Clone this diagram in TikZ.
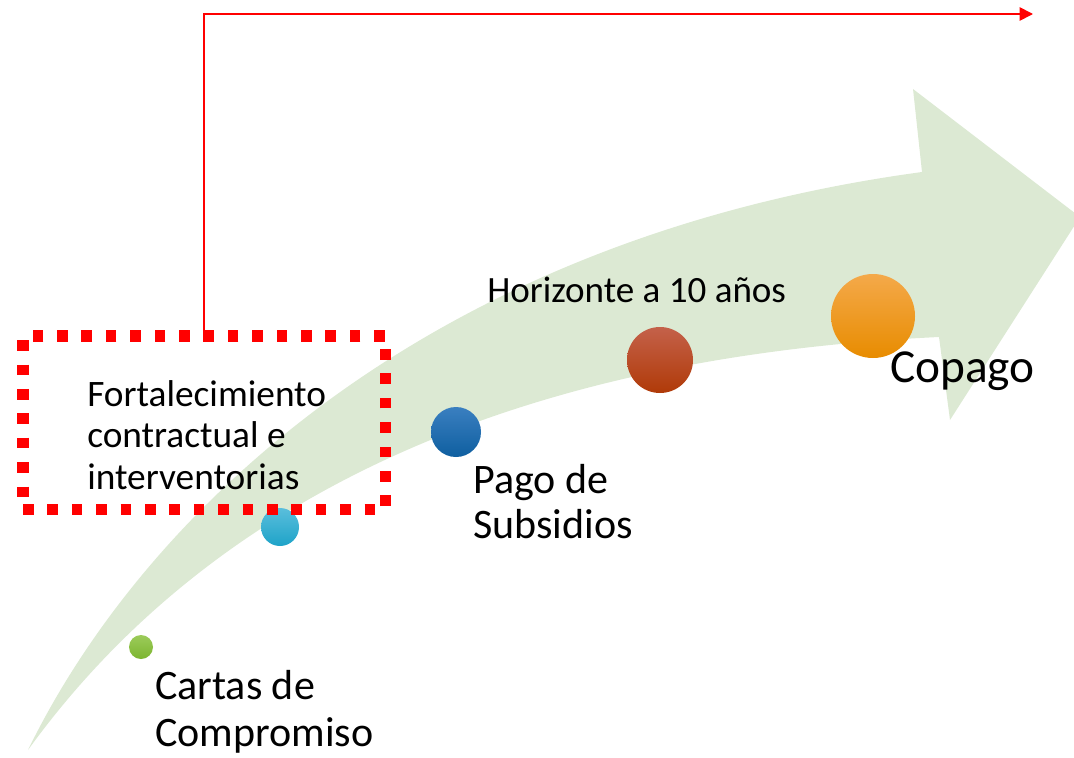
\documentclass[tikz,border=0pt]{standalone}
\usepackage{fontspec}
\setmainfont{Carlito}
\usepackage{xcolor}
\usetikzlibrary{arrows.meta,positioning,calc}

\definecolor{pathgreen}{RGB}{220,233,211}
\definecolor{framered}{RGB}{255,0,0}

\begin{document}
\begin{tikzpicture}[
    x=0.75pt, y=-0.75pt,
    bubble/.style={circle, inner sep=0pt, minimum size=#1},
    txt/.style={inner sep=0pt, align=left, anchor=west},
    connector/.style={-{Triangle[length=10pt, width=10pt]}, draw=framered, line width=1.3pt}
]
    \clip (0,0) rectangle (1074,757);

    % Curved arrow
    \fill[pathgreen] (28,750) .. controls (140,520) and (420,240) .. (922,172)
        -- (913,89) -- (1080,217) -- (950,420) -- (939,337)
        .. controls (450,360) and (180,540) .. (28,750) -- cycle;

    % Milestones
    \node[bubble=18pt, top color={rgb,255:red,156;green,203;blue,90}, bottom color={rgb,255:red,124;green,181;blue,48}] (cartasdot) at (141,647) {};
    \node[bubble=28.5pt, top color={rgb,255:red,90;green,190;blue,220}, bottom color={rgb,255:red,30;green,163;blue,200}] (reportdot) at (280,527) {};
    \node[bubble=37.5pt, top color={rgb,255:red,58;green,127;blue,192}, bottom color={rgb,255:red,15;green,95;blue,160}] (pagodot) at (456,432) {};
    \node[bubble=49.5pt, top color={rgb,255:red,196;green,97;blue,74}, bottom color={rgb,255:red,176;green,58;blue,8}] (horizdot) at (660,360) {};
    \node[bubble=63pt, top color={rgb,255:red,244;green,169;blue,74}, middle color={rgb,255:red,247;green,161;blue,26}, bottom color={rgb,255:red,232;green,140;blue,0}] (copagodot) at (873,316) {};

    % Labels
    \node[txt, font=\fontsize{31.5}{35.3}\selectfont] (cartas) at (155,712) {Cartas de\\Compromiso};
    \node[txt, font=\fontsize{31.5}{33.8}\selectfont] (pago) at (473,502) {Pago de\\Subsidios};
    \node[txt, font=\fontsize{27.8}{32}\selectfont] (horiz) at (487,290) {Horizonte a 10 años};
    \node[txt, font=\fontsize{35.5}{44}\selectfont] (copago) at (890,371) {Copago};

    % Highlight
    \node[draw=framered, line width=8.5pt, dash pattern=on 8pt off 10.3pt, outer sep=0pt, minimum width=272pt, minimum height=130pt, anchor=north west] (fortbox) at (23,336) {};
    \node[txt, font=\fontsize{28}{31.1}\selectfont] (fort) at (87,435) {Fortalecimiento\\contractual e\\interventorias};

    \coordinate (goal) at (1033,14);
    \draw[connector] (fortbox.north) |- (goal);
\end{tikzpicture}
\end{document}
